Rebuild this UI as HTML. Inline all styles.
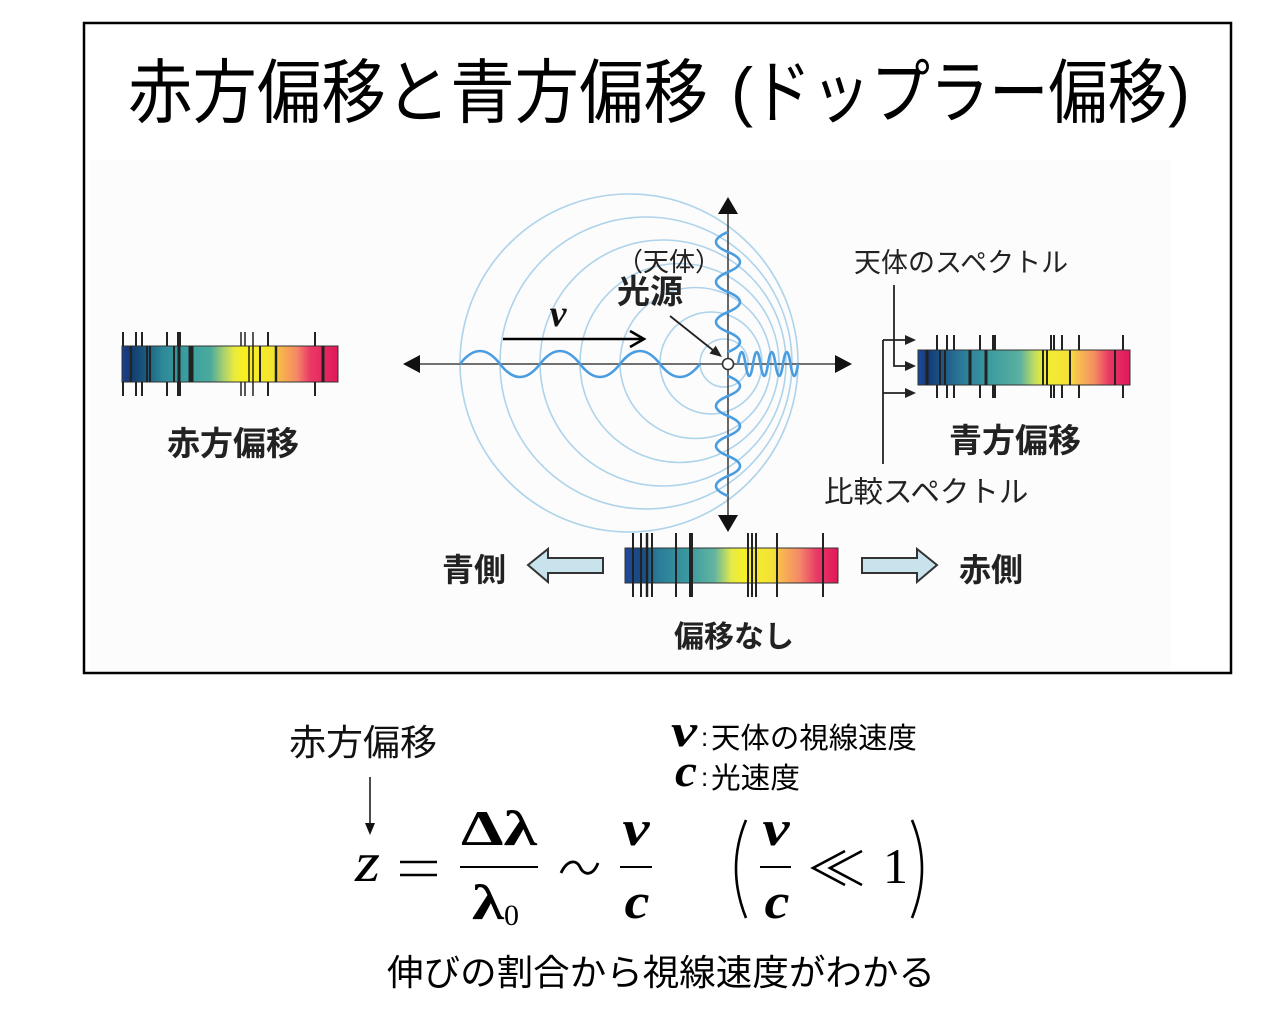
<!DOCTYPE html>
<html>
<head>
<meta charset="utf-8">
<style>
html,body{margin:0;padding:0;background:#fff;}
body{width:1272px;height:1022px;overflow:hidden;}
svg{display:block;}
.jp{font-family:"Liberation Sans","Noto Sans CJK JP",sans-serif;}
.b{font-weight:700;}
.m{font-family:"Liberation Serif","DejaVu Serif",serif;}
</style>
</head>
<body>
<svg width="1272" height="1022" viewBox="0 0 1272 1022" xmlns="http://www.w3.org/2000/svg">
<defs>
<linearGradient id="gL" x1="0" y1="0" x2="1" y2="0">
<stop offset="0" stop-color="#1c3f8f"/>
<stop offset="0.04" stop-color="#123a70"/>
<stop offset="0.11" stop-color="#1a5a80"/>
<stop offset="0.19" stop-color="#2e8a98"/>
<stop offset="0.30" stop-color="#3a9ea0"/>
<stop offset="0.41" stop-color="#4aaa9c"/>
<stop offset="0.47" stop-color="#a8d070"/>
<stop offset="0.52" stop-color="#eaea40"/>
<stop offset="0.56" stop-color="#f6f020"/>
<stop offset="0.71" stop-color="#f4e430"/>
<stop offset="0.73" stop-color="#f8b848"/>
<stop offset="0.81" stop-color="#f48868"/>
<stop offset="0.87" stop-color="#ea3a66"/>
<stop offset="1" stop-color="#e0185a"/>
</linearGradient>
<linearGradient id="gR" x1="0" y1="0" x2="1" y2="0">
<stop offset="0" stop-color="#1c4a9a"/>
<stop offset="0.05" stop-color="#123c78"/>
<stop offset="0.20" stop-color="#2a7898"/>
<stop offset="0.33" stop-color="#3a9aa0"/>
<stop offset="0.48" stop-color="#5ab0a0"/>
<stop offset="0.55" stop-color="#c0dc60"/>
<stop offset="0.60" stop-color="#f2ee30"/>
<stop offset="0.72" stop-color="#f4e038"/>
<stop offset="0.75" stop-color="#f8c050"/>
<stop offset="0.83" stop-color="#f49060"/>
<stop offset="0.90" stop-color="#e83a66"/>
<stop offset="1" stop-color="#e0185a"/>
</linearGradient>
<linearGradient id="gB" x1="0" y1="0" x2="1" y2="0">
<stop offset="0" stop-color="#1c4a9a"/>
<stop offset="0.08" stop-color="#1a4a80"/>
<stop offset="0.15" stop-color="#2a7a98"/>
<stop offset="0.30" stop-color="#3a9aa0"/>
<stop offset="0.42" stop-color="#62b4a0"/>
<stop offset="0.50" stop-color="#e4ea48"/>
<stop offset="0.56" stop-color="#f6f028"/>
<stop offset="0.70" stop-color="#f4e038"/>
<stop offset="0.73" stop-color="#f8b850"/>
<stop offset="0.82" stop-color="#f48868"/>
<stop offset="0.90" stop-color="#e83a66"/>
<stop offset="1" stop-color="#e01858"/>
</linearGradient>
</defs>

<!-- outer box -->
<rect x="84" y="23" width="1147" height="650" fill="#fff" stroke="#000" stroke-width="2.5"/>
<rect x="90" y="160" width="1081" height="511" fill="#fcfcfc"/>

<!-- title -->
<g class="jp" font-size="70" fill="#000">
<text x="128" y="117" textLength="580" lengthAdjust="spacingAndGlyphs">赤方偏移と青方偏移</text>
<text x="731" y="114" font-family="Liberation Sans, sans-serif" font-size="66">(</text>
<text x="752" y="117" textLength="415" lengthAdjust="spacingAndGlyphs">ドップラー偏移</text>
<text x="1168" y="114" font-family="Liberation Sans, sans-serif" font-size="66">)</text>
</g>

<!-- circles -->
<g fill="none" stroke="#aed3ea" stroke-width="1.6">
<circle cx="629" cy="363" r="169"/>
<circle cx="646" cy="363" r="146"/>
<circle cx="663" cy="363" r="123"/>
<circle cx="679.5" cy="363" r="99.5"/>
<circle cx="695.5" cy="363" r="75.5"/>
<circle cx="711" cy="363" r="51"/>
<circle cx="724" cy="363" r="24"/>
</g>

<!-- axes -->
<g stroke="#444" stroke-width="1.6">
<line x1="415" y1="364" x2="840" y2="364"/>
<line x1="728" y1="210" x2="728" y2="520"/>
</g>
<g fill="#111">
<polygon points="403,364 420,355 420,373"/>
<polygon points="852,364 835,355 835,373"/>
<polygon points="728,197 718,214 738,214"/>
<polygon points="728,532 718,515 738,515"/>
</g>

<!-- waves -->
<g fill="none" stroke="#4a9de0" stroke-width="2.6" stroke-linejoin="round">
<path d="M460,364 Q480,338 500,364 T540,364 T580,364 T620,364 T660,364 T700,364"/>
<path d="M738,364 Q741.75,340 745.5,364 T753,364 T760.5,364 T768,364 T775.5,364 T783,364 T790.5,364 T798,364"/>
<path d="M728,352 Q752,342 728,332 T728,312 T728,292 T728,272 T728,252 T728,232"/>
<path d="M728,376 Q752,386 728,396 T728,416 T728,436 T728,456 T728,476 T728,496"/>
</g>
<circle cx="728" cy="364" r="5.5" fill="#fff" stroke="#333" stroke-width="1.6"/>

<!-- v arrow -->
<g stroke="#000" stroke-width="2.6" fill="none">
<line x1="503" y1="339" x2="642" y2="339"/>
<polyline points="630,331 644,339 630,347"/>
</g>
<text x="558" y="326" class="m" font-size="38" font-weight="700" font-style="italic" text-anchor="middle" fill="#111">v</text>

<!-- pointer arrow -->
<line x1="670" y1="316" x2="714" y2="351" stroke="#222" stroke-width="1.8"/>
<polygon points="722,357 709.5,353.5 715.7,345.7" fill="#222"/>

<!-- center labels -->
<text x="617" y="271" class="jp" font-size="26" fill="#222">（天体）</text>
<text x="617" y="303" class="jp b" font-size="33" fill="#222">光源</text>

<!-- left spectrum -->
<rect x="122" y="346" width="216" height="36" fill="url(#gL)" stroke="#333" stroke-width="1"/>
<g stroke="#222">
<g stroke-width="2">
<path d="M123,332V346M123,382V396M136,332V346M136,382V396M142,332V346M142,382V396M167,332V346M167,382V396M268,332V346M268,382V396M315,332V346M315,382V396"/>
</g>
<path d="M179,332V346M179,382V396" stroke-width="4"/>
<path d="M241,332V346M241,382V396M245,332V346M245,382V396M253,332V346M253,382V396" stroke-width="1.5"/>
<path d="M131,346V382M147,346V382M150,346V382M174,346V382M260,346V382" stroke-width="2"/>
<path d="M179,346V382" stroke-width="3"/>
<path d="M191,346V382" stroke-width="5"/>
<path d="M249,346V382M253,346V382" stroke-width="1.5"/>
<path d="M276,346V382" stroke-width="2.5"/>
<path d="M323,346V382" stroke-width="3"/>
</g>
<text x="167" y="455" class="jp b" font-size="33" fill="#222">赤方偏移</text>

<!-- right spectrum -->
<rect x="918" y="350" width="212" height="35" fill="url(#gR)" stroke="#333" stroke-width="1"/>
<g stroke="#222">
<path d="M937,335V350M937,385V398M947,335V350M947,385V398M954,335V350M954,385V398M980,335V350M980,385V398M1051,335V350M1051,385V398M1054,335V350M1054,385V398M1062,335V350M1062,385V398M1079,335V350M1079,385V398M1123,335V350M1123,385V398" stroke-width="2"/>
<path d="M994,335V350M994,385V398" stroke-width="4"/>
<path d="M927,350V385M970,350V385M986,350V385" stroke-width="3"/>
<path d="M940,350V385M945,350V385M1043,350V385M1047,350V385M1070,350V385M1115,350V385" stroke-width="2"/>
</g>
<text x="949" y="452" class="jp b" font-size="33" fill="#222">青方偏移</text>

<!-- bracket arrows -->
<g stroke="#222" stroke-width="1.8" fill="none">
<polyline points="894,285 894,366 906,366"/>
<line x1="883" y1="340" x2="883" y2="464"/>
<line x1="883" y1="340" x2="906" y2="340"/>
<line x1="883" y1="393" x2="906" y2="393"/>
</g>
<g fill="#222">
<polygon points="916,366 905,361 905,371"/>
<polygon points="916,340 905,335 905,345"/>
<polygon points="916,393 905,388 905,398"/>
</g>
<text x="854" y="272" class="jp" font-size="27" fill="#222">天体のスペクトル</text>
<text x="824" y="502" class="jp" font-size="29.5" fill="#222">比較スペクトル</text>

<!-- bottom spectrum -->
<rect x="625" y="548" width="213" height="35" fill="url(#gB)" stroke="#333" stroke-width="1"/>
<g stroke="#222">
<path d="M633,533V597M641,533V597M676,533V597M748,533V597M752,533V597M756,533V597M777,533V597M823,533V597" stroke-width="2"/>
<path d="M647,533V597" stroke-width="2.5"/>
<path d="M652,533V597" stroke-width="2"/>
<path d="M691,533V597" stroke-width="4"/>
</g>

<!-- hollow arrows -->
<polygon points="528,565 548,549 548,558 603,558 603,573 548,573 548,582" fill="#c8e3ec" stroke="#333" stroke-width="2" stroke-linejoin="miter"/>
<polygon points="937,565 917,549 917,558 862,558 862,573 917,573 917,582" fill="#c8e3ec" stroke="#333" stroke-width="2" stroke-linejoin="miter"/>

<text x="442" y="581" class="jp b" font-size="32" fill="#222">青側</text>
<text x="959" y="581" class="jp b" font-size="32" fill="#222">赤側</text>
<text x="674" y="647" class="jp b" font-size="30" fill="#222">偏移なし</text>

<!-- formula section -->
<text x="289" y="755" class="jp" font-size="36" textLength="148" lengthAdjust="spacingAndGlyphs" fill="#111">赤方偏移</text>
<line x1="370" y1="777" x2="370" y2="826" stroke="#111" stroke-width="1.5"/>
<polygon points="370,835 365,823 375,823" fill="#111"/>

<text x="671" y="746" class="m" font-size="46" font-weight="700" font-style="italic" textLength="26" lengthAdjust="spacingAndGlyphs" fill="#000">v</text>
<text x="701" y="746" font-family="Liberation Sans, sans-serif" font-size="26" fill="#000">:</text>
<text x="711" y="748" class="jp" font-size="29" textLength="206" lengthAdjust="spacingAndGlyphs" fill="#000">天体の視線速度</text>
<text x="675" y="786" class="m" font-size="46" font-weight="700" font-style="italic" textLength="22" lengthAdjust="spacingAndGlyphs" fill="#000">c</text>
<text x="701" y="786" font-family="Liberation Sans, sans-serif" font-size="26" fill="#000">:</text>
<text x="711" y="788" class="jp" font-size="29" textLength="89" lengthAdjust="spacingAndGlyphs" fill="#000">光速度</text>

<g class="m" fill="#000">
<text x="355" y="881" font-size="56" font-style="italic" textLength="25" lengthAdjust="spacingAndGlyphs">z</text>
<text x="499" y="845" font-size="50" font-weight="700" text-anchor="middle" textLength="76" lengthAdjust="spacingAndGlyphs">Δλ</text>
<text x="472" y="919" font-size="50" font-weight="700" textLength="32" lengthAdjust="spacingAndGlyphs">λ</text>
<text x="504" y="925" font-size="30">0</text>
<text x="636" y="845" font-size="50" font-weight="700" font-style="italic" text-anchor="middle" textLength="27" lengthAdjust="spacingAndGlyphs">v</text>
<text x="637" y="918" font-size="50" font-weight="700" font-style="italic" text-anchor="middle" textLength="25" lengthAdjust="spacingAndGlyphs">c</text>
<text x="776" y="845" font-size="50" font-weight="700" font-style="italic" text-anchor="middle" textLength="27" lengthAdjust="spacingAndGlyphs">v</text>
<text x="777" y="918" font-size="50" font-weight="700" font-style="italic" text-anchor="middle" textLength="25" lengthAdjust="spacingAndGlyphs">c</text>
<text x="883" y="883" font-size="50">1</text>
</g>
<g stroke="#000" fill="none">
<line x1="400" y1="862" x2="437" y2="862" stroke-width="2.6"/>
<line x1="400" y1="875" x2="437" y2="875" stroke-width="2.6"/>
<line x1="460" y1="867" x2="538" y2="867" stroke-width="2"/>
<line x1="620" y1="867" x2="652" y2="867" stroke-width="2"/>
<line x1="760" y1="867" x2="791" y2="867" stroke-width="2"/>
<path d="M561,873 C567,860 576,859 580,867 C584,876 593,876 598,863" stroke-width="2.8"/>
<path d="M746,820 Q726,868 746,918" stroke-width="2.6"/>
<path d="M912,820 Q932,868 912,918" stroke-width="2.6"/>
<polyline points="845,851 813,868 845,885" stroke-width="2.6"/>
<polyline points="862,851 830,868 862,885" stroke-width="2.6"/>
</g>

<text x="387" y="985" class="jp" font-size="36" textLength="548" lengthAdjust="spacingAndGlyphs" fill="#000">伸びの割合から視線速度がわかる</text>
</svg>
</body>
</html>
